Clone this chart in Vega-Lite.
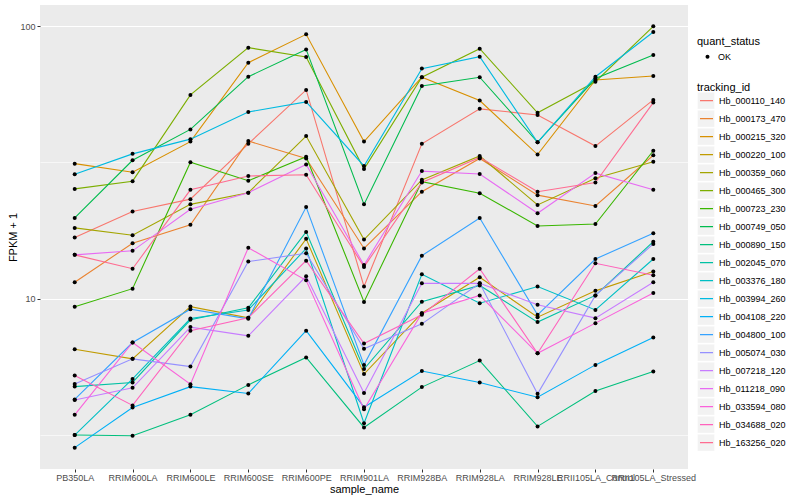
{
"$schema": "https://vega.github.io/schema/vega-lite/v6.json",
"width": 648, "height": 464,
"autosize": {"type": "none"},
"padding": {"left": 40, "top": 5, "right": 112, "bottom": 31},
"background": "white",
"config": {
  "font": "Liberation Sans",
  "view": {"fill": "#EBEBEB", "stroke": null},
  "axis": {"domain": false, "gridColor": "white", "tickColor": "#333333", "labelColor": "#4D4D4D", "labelFontSize": 9, "titleFontSize": 11, "titleFontWeight": "normal", "titleColor": "black", "tickSize": 3, "labelPadding": 2},
  "legend": {"titleFontSize": 11, "titleFontWeight": "normal", "titleColor": "black", "labelFontSize": 9, "labelColor": "black"}
},
"datasets": {"fpkm": [
{"tracking_id":"Hb_000110_140","sample_name":"PB350LA","FPKM":16.8,"quant_status":"OK"},
{"tracking_id":"Hb_000110_140","sample_name":"RRIM600LA","FPKM":20.9,"quant_status":"OK"},
{"tracking_id":"Hb_000110_140","sample_name":"RRIM600LE","FPKM":23.2,"quant_status":"OK"},
{"tracking_id":"Hb_000110_140","sample_name":"RRIM600SE","FPKM":37.0,"quant_status":"OK"},
{"tracking_id":"Hb_000110_140","sample_name":"RRIM600PE","FPKM":58.3,"quant_status":"OK"},
{"tracking_id":"Hb_000110_140","sample_name":"RRIM901LA","FPKM":11.1,"quant_status":"OK"},
{"tracking_id":"Hb_000110_140","sample_name":"RRIM928BA","FPKM":37.0,"quant_status":"OK"},
{"tracking_id":"Hb_000110_140","sample_name":"RRIM928LA","FPKM":49.7,"quant_status":"OK"},
{"tracking_id":"Hb_000110_140","sample_name":"RRIM928LE","FPKM":47.2,"quant_status":"OK"},
{"tracking_id":"Hb_000110_140","sample_name":"RRII105LA_Control","FPKM":36.3,"quant_status":"OK"},
{"tracking_id":"Hb_000110_140","sample_name":"RRII105LA_Stressed","FPKM":53.6,"quant_status":"OK"},
{"tracking_id":"Hb_000173_470","sample_name":"PB350LA","FPKM":11.5,"quant_status":"OK"},
{"tracking_id":"Hb_000173_470","sample_name":"RRIM600LA","FPKM":16.0,"quant_status":"OK"},
{"tracking_id":"Hb_000173_470","sample_name":"RRIM600LE","FPKM":18.7,"quant_status":"OK"},
{"tracking_id":"Hb_000173_470","sample_name":"RRIM600SE","FPKM":37.9,"quant_status":"OK"},
{"tracking_id":"Hb_000173_470","sample_name":"RRIM600PE","FPKM":32.7,"quant_status":"OK"},
{"tracking_id":"Hb_000173_470","sample_name":"RRIM901LA","FPKM":15.3,"quant_status":"OK"},
{"tracking_id":"Hb_000173_470","sample_name":"RRIM928BA","FPKM":24.7,"quant_status":"OK"},
{"tracking_id":"Hb_000173_470","sample_name":"RRIM928LA","FPKM":32.7,"quant_status":"OK"},
{"tracking_id":"Hb_000173_470","sample_name":"RRIM928LE","FPKM":24.0,"quant_status":"OK"},
{"tracking_id":"Hb_000173_470","sample_name":"RRII105LA_Control","FPKM":21.9,"quant_status":"OK"},
{"tracking_id":"Hb_000173_470","sample_name":"RRII105LA_Stressed","FPKM":33.6,"quant_status":"OK"},
{"tracking_id":"Hb_000215_320","sample_name":"PB350LA","FPKM":31.3,"quant_status":"OK"},
{"tracking_id":"Hb_000215_320","sample_name":"RRIM600LA","FPKM":29.1,"quant_status":"OK"},
{"tracking_id":"Hb_000215_320","sample_name":"RRIM600LE","FPKM":37.7,"quant_status":"OK"},
{"tracking_id":"Hb_000215_320","sample_name":"RRIM600SE","FPKM":73.4,"quant_status":"OK"},
{"tracking_id":"Hb_000215_320","sample_name":"RRIM600PE","FPKM":93.2,"quant_status":"OK"},
{"tracking_id":"Hb_000215_320","sample_name":"RRIM901LA","FPKM":37.7,"quant_status":"OK"},
{"tracking_id":"Hb_000215_320","sample_name":"RRIM928BA","FPKM":64.9,"quant_status":"OK"},
{"tracking_id":"Hb_000215_320","sample_name":"RRIM928LA","FPKM":53.3,"quant_status":"OK"},
{"tracking_id":"Hb_000215_320","sample_name":"RRIM928LE","FPKM":33.8,"quant_status":"OK"},
{"tracking_id":"Hb_000215_320","sample_name":"RRII105LA_Control","FPKM":63.4,"quant_status":"OK"},
{"tracking_id":"Hb_000215_320","sample_name":"RRII105LA_Stressed","FPKM":65.6,"quant_status":"OK"},
{"tracking_id":"Hb_000220_100","sample_name":"PB350LA","FPKM":6.54,"quant_status":"OK"},
{"tracking_id":"Hb_000220_100","sample_name":"RRIM600LA","FPKM":6.03,"quant_status":"OK"},
{"tracking_id":"Hb_000220_100","sample_name":"RRIM600LE","FPKM":9.37,"quant_status":"OK"},
{"tracking_id":"Hb_000220_100","sample_name":"RRIM600SE","FPKM":8.52,"quant_status":"OK"},
{"tracking_id":"Hb_000220_100","sample_name":"RRIM600PE","FPKM":16.6,"quant_status":"OK"},
{"tracking_id":"Hb_000220_100","sample_name":"RRIM901LA","FPKM":5.30,"quant_status":"OK"},
{"tracking_id":"Hb_000220_100","sample_name":"RRIM928BA","FPKM":8.86,"quant_status":"OK"},
{"tracking_id":"Hb_000220_100","sample_name":"RRIM928LA","FPKM":12.0,"quant_status":"OK"},
{"tracking_id":"Hb_000220_100","sample_name":"RRIM928LE","FPKM":8.57,"quant_status":"OK"},
{"tracking_id":"Hb_000220_100","sample_name":"RRII105LA_Control","FPKM":10.7,"quant_status":"OK"},
{"tracking_id":"Hb_000220_100","sample_name":"RRII105LA_Stressed","FPKM":12.6,"quant_status":"OK"},
{"tracking_id":"Hb_000359_060","sample_name":"PB350LA","FPKM":18.2,"quant_status":"OK"},
{"tracking_id":"Hb_000359_060","sample_name":"RRIM600LA","FPKM":17.1,"quant_status":"OK"},
{"tracking_id":"Hb_000359_060","sample_name":"RRIM600LE","FPKM":22.2,"quant_status":"OK"},
{"tracking_id":"Hb_000359_060","sample_name":"RRIM600SE","FPKM":24.5,"quant_status":"OK"},
{"tracking_id":"Hb_000359_060","sample_name":"RRIM600PE","FPKM":39.5,"quant_status":"OK"},
{"tracking_id":"Hb_000359_060","sample_name":"RRIM901LA","FPKM":16.5,"quant_status":"OK"},
{"tracking_id":"Hb_000359_060","sample_name":"RRIM928BA","FPKM":27.3,"quant_status":"OK"},
{"tracking_id":"Hb_000359_060","sample_name":"RRIM928LA","FPKM":33.4,"quant_status":"OK"},
{"tracking_id":"Hb_000359_060","sample_name":"RRIM928LE","FPKM":22.1,"quant_status":"OK"},
{"tracking_id":"Hb_000359_060","sample_name":"RRII105LA_Control","FPKM":27.7,"quant_status":"OK"},
{"tracking_id":"Hb_000359_060","sample_name":"RRII105LA_Stressed","FPKM":31.8,"quant_status":"OK"},
{"tracking_id":"Hb_000465_300","sample_name":"PB350LA","FPKM":25.3,"quant_status":"OK"},
{"tracking_id":"Hb_000465_300","sample_name":"RRIM600LA","FPKM":27.0,"quant_status":"OK"},
{"tracking_id":"Hb_000465_300","sample_name":"RRIM600LE","FPKM":55.9,"quant_status":"OK"},
{"tracking_id":"Hb_000465_300","sample_name":"RRIM600SE","FPKM":83.3,"quant_status":"OK"},
{"tracking_id":"Hb_000465_300","sample_name":"RRIM600PE","FPKM":77.0,"quant_status":"OK"},
{"tracking_id":"Hb_000465_300","sample_name":"RRIM901LA","FPKM":29.9,"quant_status":"OK"},
{"tracking_id":"Hb_000465_300","sample_name":"RRIM928BA","FPKM":64.9,"quant_status":"OK"},
{"tracking_id":"Hb_000465_300","sample_name":"RRIM928LA","FPKM":82.6,"quant_status":"OK"},
{"tracking_id":"Hb_000465_300","sample_name":"RRIM928LE","FPKM":48.1,"quant_status":"OK"},
{"tracking_id":"Hb_000465_300","sample_name":"RRII105LA_Control","FPKM":62.5,"quant_status":"OK"},
{"tracking_id":"Hb_000465_300","sample_name":"RRII105LA_Stressed","FPKM":99.7,"quant_status":"OK"},
{"tracking_id":"Hb_000723_230","sample_name":"PB350LA","FPKM":9.35,"quant_status":"OK"},
{"tracking_id":"Hb_000723_230","sample_name":"RRIM600LA","FPKM":10.9,"quant_status":"OK"},
{"tracking_id":"Hb_000723_230","sample_name":"RRIM600LE","FPKM":31.7,"quant_status":"OK"},
{"tracking_id":"Hb_000723_230","sample_name":"RRIM600SE","FPKM":27.1,"quant_status":"OK"},
{"tracking_id":"Hb_000723_230","sample_name":"RRIM600PE","FPKM":33.2,"quant_status":"OK"},
{"tracking_id":"Hb_000723_230","sample_name":"RRIM901LA","FPKM":9.75,"quant_status":"OK"},
{"tracking_id":"Hb_000723_230","sample_name":"RRIM928BA","FPKM":26.9,"quant_status":"OK"},
{"tracking_id":"Hb_000723_230","sample_name":"RRIM928LA","FPKM":24.4,"quant_status":"OK"},
{"tracking_id":"Hb_000723_230","sample_name":"RRIM928LE","FPKM":18.5,"quant_status":"OK"},
{"tracking_id":"Hb_000723_230","sample_name":"RRII105LA_Control","FPKM":18.8,"quant_status":"OK"},
{"tracking_id":"Hb_000723_230","sample_name":"RRII105LA_Stressed","FPKM":34.9,"quant_status":"OK"},
{"tracking_id":"Hb_000749_050","sample_name":"PB350LA","FPKM":19.8,"quant_status":"OK"},
{"tracking_id":"Hb_000749_050","sample_name":"RRIM600LA","FPKM":32.2,"quant_status":"OK"},
{"tracking_id":"Hb_000749_050","sample_name":"RRIM600LE","FPKM":41.8,"quant_status":"OK"},
{"tracking_id":"Hb_000749_050","sample_name":"RRIM600SE","FPKM":65.2,"quant_status":"OK"},
{"tracking_id":"Hb_000749_050","sample_name":"RRIM600PE","FPKM":82.1,"quant_status":"OK"},
{"tracking_id":"Hb_000749_050","sample_name":"RRIM901LA","FPKM":22.2,"quant_status":"OK"},
{"tracking_id":"Hb_000749_050","sample_name":"RRIM928BA","FPKM":60.3,"quant_status":"OK"},
{"tracking_id":"Hb_000749_050","sample_name":"RRIM928LA","FPKM":64.9,"quant_status":"OK"},
{"tracking_id":"Hb_000749_050","sample_name":"RRIM928LE","FPKM":37.5,"quant_status":"OK"},
{"tracking_id":"Hb_000749_050","sample_name":"RRII105LA_Control","FPKM":64.2,"quant_status":"OK"},
{"tracking_id":"Hb_000749_050","sample_name":"RRII105LA_Stressed","FPKM":78.3,"quant_status":"OK"},
{"tracking_id":"Hb_000890_150","sample_name":"PB350LA","FPKM":3.17,"quant_status":"OK"},
{"tracking_id":"Hb_000890_150","sample_name":"RRIM600LA","FPKM":3.15,"quant_status":"OK"},
{"tracking_id":"Hb_000890_150","sample_name":"RRIM600LE","FPKM":3.76,"quant_status":"OK"},
{"tracking_id":"Hb_000890_150","sample_name":"RRIM600SE","FPKM":4.84,"quant_status":"OK"},
{"tracking_id":"Hb_000890_150","sample_name":"RRIM600PE","FPKM":6.10,"quant_status":"OK"},
{"tracking_id":"Hb_000890_150","sample_name":"RRIM901LA","FPKM":3.38,"quant_status":"OK"},
{"tracking_id":"Hb_000890_150","sample_name":"RRIM928BA","FPKM":4.75,"quant_status":"OK"},
{"tracking_id":"Hb_000890_150","sample_name":"RRIM928LA","FPKM":5.94,"quant_status":"OK"},
{"tracking_id":"Hb_000890_150","sample_name":"RRIM928LE","FPKM":3.41,"quant_status":"OK"},
{"tracking_id":"Hb_000890_150","sample_name":"RRII105LA_Control","FPKM":4.60,"quant_status":"OK"},
{"tracking_id":"Hb_000890_150","sample_name":"RRII105LA_Stressed","FPKM":5.42,"quant_status":"OK"},
{"tracking_id":"Hb_002045_070","sample_name":"PB350LA","FPKM":4.77,"quant_status":"OK"},
{"tracking_id":"Hb_002045_070","sample_name":"RRIM600LA","FPKM":4.94,"quant_status":"OK"},
{"tracking_id":"Hb_002045_070","sample_name":"RRIM600LE","FPKM":8.38,"quant_status":"OK"},
{"tracking_id":"Hb_002045_070","sample_name":"RRIM600SE","FPKM":9.27,"quant_status":"OK"},
{"tracking_id":"Hb_002045_070","sample_name":"RRIM600PE","FPKM":17.6,"quant_status":"OK"},
{"tracking_id":"Hb_002045_070","sample_name":"RRIM901LA","FPKM":5.53,"quant_status":"OK"},
{"tracking_id":"Hb_002045_070","sample_name":"RRIM928BA","FPKM":9.77,"quant_status":"OK"},
{"tracking_id":"Hb_002045_070","sample_name":"RRIM928LA","FPKM":11.2,"quant_status":"OK"},
{"tracking_id":"Hb_002045_070","sample_name":"RRIM928LE","FPKM":8.22,"quant_status":"OK"},
{"tracking_id":"Hb_002045_070","sample_name":"RRII105LA_Control","FPKM":10.3,"quant_status":"OK"},
{"tracking_id":"Hb_002045_070","sample_name":"RRII105LA_Stressed","FPKM":16.2,"quant_status":"OK"},
{"tracking_id":"Hb_003376_180","sample_name":"PB350LA","FPKM":3.17,"quant_status":"OK"},
{"tracking_id":"Hb_003376_180","sample_name":"RRIM600LA","FPKM":5.09,"quant_status":"OK"},
{"tracking_id":"Hb_003376_180","sample_name":"RRIM600LE","FPKM":8.47,"quant_status":"OK"},
{"tracking_id":"Hb_003376_180","sample_name":"RRIM600SE","FPKM":9.11,"quant_status":"OK"},
{"tracking_id":"Hb_003376_180","sample_name":"RRIM600PE","FPKM":15.3,"quant_status":"OK"},
{"tracking_id":"Hb_003376_180","sample_name":"RRIM901LA","FPKM":3.50,"quant_status":"OK"},
{"tracking_id":"Hb_003376_180","sample_name":"RRIM928BA","FPKM":12.3,"quant_status":"OK"},
{"tracking_id":"Hb_003376_180","sample_name":"RRIM928LA","FPKM":9.64,"quant_status":"OK"},
{"tracking_id":"Hb_003376_180","sample_name":"RRIM928LE","FPKM":11.1,"quant_status":"OK"},
{"tracking_id":"Hb_003376_180","sample_name":"RRII105LA_Control","FPKM":9.11,"quant_status":"OK"},
{"tracking_id":"Hb_003376_180","sample_name":"RRII105LA_Stressed","FPKM":14.0,"quant_status":"OK"},
{"tracking_id":"Hb_003994_260","sample_name":"PB350LA","FPKM":28.6,"quant_status":"OK"},
{"tracking_id":"Hb_003994_260","sample_name":"RRIM600LA","FPKM":34.0,"quant_status":"OK"},
{"tracking_id":"Hb_003994_260","sample_name":"RRIM600LE","FPKM":38.5,"quant_status":"OK"},
{"tracking_id":"Hb_003994_260","sample_name":"RRIM600SE","FPKM":48.4,"quant_status":"OK"},
{"tracking_id":"Hb_003994_260","sample_name":"RRIM600PE","FPKM":52.7,"quant_status":"OK"},
{"tracking_id":"Hb_003994_260","sample_name":"RRIM901LA","FPKM":30.7,"quant_status":"OK"},
{"tracking_id":"Hb_003994_260","sample_name":"RRIM928BA","FPKM":69.8,"quant_status":"OK"},
{"tracking_id":"Hb_003994_260","sample_name":"RRIM928LA","FPKM":77.2,"quant_status":"OK"},
{"tracking_id":"Hb_003994_260","sample_name":"RRIM928LE","FPKM":37.5,"quant_status":"OK"},
{"tracking_id":"Hb_003994_260","sample_name":"RRII105LA_Control","FPKM":65.2,"quant_status":"OK"},
{"tracking_id":"Hb_003994_260","sample_name":"RRII105LA_Stressed","FPKM":95.1,"quant_status":"OK"},
{"tracking_id":"Hb_004108_220","sample_name":"PB350LA","FPKM":2.85,"quant_status":"OK"},
{"tracking_id":"Hb_004108_220","sample_name":"RRIM600LA","FPKM":4.00,"quant_status":"OK"},
{"tracking_id":"Hb_004108_220","sample_name":"RRIM600LE","FPKM":4.77,"quant_status":"OK"},
{"tracking_id":"Hb_004108_220","sample_name":"RRIM600SE","FPKM":4.50,"quant_status":"OK"},
{"tracking_id":"Hb_004108_220","sample_name":"RRIM600PE","FPKM":7.65,"quant_status":"OK"},
{"tracking_id":"Hb_004108_220","sample_name":"RRIM901LA","FPKM":4.01,"quant_status":"OK"},
{"tracking_id":"Hb_004108_220","sample_name":"RRIM928BA","FPKM":5.44,"quant_status":"OK"},
{"tracking_id":"Hb_004108_220","sample_name":"RRIM928LA","FPKM":4.94,"quant_status":"OK"},
{"tracking_id":"Hb_004108_220","sample_name":"RRIM928LE","FPKM":4.36,"quant_status":"OK"},
{"tracking_id":"Hb_004108_220","sample_name":"RRII105LA_Control","FPKM":5.73,"quant_status":"OK"},
{"tracking_id":"Hb_004108_220","sample_name":"RRII105LA_Stressed","FPKM":7.22,"quant_status":"OK"},
{"tracking_id":"Hb_004800_100","sample_name":"PB350LA","FPKM":4.28,"quant_status":"OK"},
{"tracking_id":"Hb_004800_100","sample_name":"RRIM600LA","FPKM":6.92,"quant_status":"OK"},
{"tracking_id":"Hb_004800_100","sample_name":"RRIM600LE","FPKM":9.17,"quant_status":"OK"},
{"tracking_id":"Hb_004800_100","sample_name":"RRIM600SE","FPKM":8.45,"quant_status":"OK"},
{"tracking_id":"Hb_004800_100","sample_name":"RRIM600PE","FPKM":21.7,"quant_status":"OK"},
{"tracking_id":"Hb_004800_100","sample_name":"RRIM901LA","FPKM":5.73,"quant_status":"OK"},
{"tracking_id":"Hb_004800_100","sample_name":"RRIM928BA","FPKM":14.4,"quant_status":"OK"},
{"tracking_id":"Hb_004800_100","sample_name":"RRIM928LA","FPKM":19.8,"quant_status":"OK"},
{"tracking_id":"Hb_004800_100","sample_name":"RRIM928LE","FPKM":8.74,"quant_status":"OK"},
{"tracking_id":"Hb_004800_100","sample_name":"RRII105LA_Control","FPKM":14.0,"quant_status":"OK"},
{"tracking_id":"Hb_004800_100","sample_name":"RRII105LA_Stressed","FPKM":17.4,"quant_status":"OK"},
{"tracking_id":"Hb_005074_030","sample_name":"PB350LA","FPKM":4.88,"quant_status":"OK"},
{"tracking_id":"Hb_005074_030","sample_name":"RRIM600LA","FPKM":6.03,"quant_status":"OK"},
{"tracking_id":"Hb_005074_030","sample_name":"RRIM600LE","FPKM":5.65,"quant_status":"OK"},
{"tracking_id":"Hb_005074_030","sample_name":"RRIM600SE","FPKM":13.7,"quant_status":"OK"},
{"tracking_id":"Hb_005074_030","sample_name":"RRIM600PE","FPKM":14.7,"quant_status":"OK"},
{"tracking_id":"Hb_005074_030","sample_name":"RRIM901LA","FPKM":6.56,"quant_status":"OK"},
{"tracking_id":"Hb_005074_030","sample_name":"RRIM928BA","FPKM":8.10,"quant_status":"OK"},
{"tracking_id":"Hb_005074_030","sample_name":"RRIM928LA","FPKM":11.4,"quant_status":"OK"},
{"tracking_id":"Hb_005074_030","sample_name":"RRIM928LE","FPKM":4.49,"quant_status":"OK"},
{"tracking_id":"Hb_005074_030","sample_name":"RRII105LA_Control","FPKM":10.3,"quant_status":"OK"},
{"tracking_id":"Hb_005074_030","sample_name":"RRII105LA_Stressed","FPKM":15.9,"quant_status":"OK"},
{"tracking_id":"Hb_007218_120","sample_name":"PB350LA","FPKM":4.26,"quant_status":"OK"},
{"tracking_id":"Hb_007218_120","sample_name":"RRIM600LA","FPKM":4.72,"quant_status":"OK"},
{"tracking_id":"Hb_007218_120","sample_name":"RRIM600LE","FPKM":7.88,"quant_status":"OK"},
{"tracking_id":"Hb_007218_120","sample_name":"RRIM600SE","FPKM":7.32,"quant_status":"OK"},
{"tracking_id":"Hb_007218_120","sample_name":"RRIM600PE","FPKM":12.1,"quant_status":"OK"},
{"tracking_id":"Hb_007218_120","sample_name":"RRIM901LA","FPKM":4.52,"quant_status":"OK"},
{"tracking_id":"Hb_007218_120","sample_name":"RRIM928BA","FPKM":11.4,"quant_status":"OK"},
{"tracking_id":"Hb_007218_120","sample_name":"RRIM928LA","FPKM":11.4,"quant_status":"OK"},
{"tracking_id":"Hb_007218_120","sample_name":"RRIM928LE","FPKM":9.51,"quant_status":"OK"},
{"tracking_id":"Hb_007218_120","sample_name":"RRII105LA_Control","FPKM":8.50,"quant_status":"OK"},
{"tracking_id":"Hb_007218_120","sample_name":"RRII105LA_Stressed","FPKM":11.5,"quant_status":"OK"},
{"tracking_id":"Hb_011218_090","sample_name":"PB350LA","FPKM":14.5,"quant_status":"OK"},
{"tracking_id":"Hb_011218_090","sample_name":"RRIM600LA","FPKM":15.0,"quant_status":"OK"},
{"tracking_id":"Hb_011218_090","sample_name":"RRIM600LE","FPKM":21.3,"quant_status":"OK"},
{"tracking_id":"Hb_011218_090","sample_name":"RRIM600SE","FPKM":24.5,"quant_status":"OK"},
{"tracking_id":"Hb_011218_090","sample_name":"RRIM600PE","FPKM":31.1,"quant_status":"OK"},
{"tracking_id":"Hb_011218_090","sample_name":"RRIM901LA","FPKM":13.3,"quant_status":"OK"},
{"tracking_id":"Hb_011218_090","sample_name":"RRIM928BA","FPKM":29.4,"quant_status":"OK"},
{"tracking_id":"Hb_011218_090","sample_name":"RRIM928LA","FPKM":28.7,"quant_status":"OK"},
{"tracking_id":"Hb_011218_090","sample_name":"RRIM928LE","FPKM":20.6,"quant_status":"OK"},
{"tracking_id":"Hb_011218_090","sample_name":"RRII105LA_Control","FPKM":28.9,"quant_status":"OK"},
{"tracking_id":"Hb_011218_090","sample_name":"RRII105LA_Stressed","FPKM":25.1,"quant_status":"OK"},
{"tracking_id":"Hb_033594_080","sample_name":"PB350LA","FPKM":3.76,"quant_status":"OK"},
{"tracking_id":"Hb_033594_080","sample_name":"RRIM600LA","FPKM":6.92,"quant_status":"OK"},
{"tracking_id":"Hb_033594_080","sample_name":"RRIM600LE","FPKM":4.87,"quant_status":"OK"},
{"tracking_id":"Hb_033594_080","sample_name":"RRIM600SE","FPKM":15.4,"quant_status":"OK"},
{"tracking_id":"Hb_033594_080","sample_name":"RRIM600PE","FPKM":11.7,"quant_status":"OK"},
{"tracking_id":"Hb_033594_080","sample_name":"RRIM901LA","FPKM":3.94,"quant_status":"OK"},
{"tracking_id":"Hb_033594_080","sample_name":"RRIM928BA","FPKM":8.86,"quant_status":"OK"},
{"tracking_id":"Hb_033594_080","sample_name":"RRIM928LA","FPKM":10.3,"quant_status":"OK"},
{"tracking_id":"Hb_033594_080","sample_name":"RRIM928LE","FPKM":6.32,"quant_status":"OK"},
{"tracking_id":"Hb_033594_080","sample_name":"RRII105LA_Control","FPKM":8.15,"quant_status":"OK"},
{"tracking_id":"Hb_033594_080","sample_name":"RRII105LA_Stressed","FPKM":10.5,"quant_status":"OK"},
{"tracking_id":"Hb_034688_020","sample_name":"PB350LA","FPKM":5.24,"quant_status":"OK"},
{"tracking_id":"Hb_034688_020","sample_name":"RRIM600LA","FPKM":4.07,"quant_status":"OK"},
{"tracking_id":"Hb_034688_020","sample_name":"RRIM600LE","FPKM":7.65,"quant_status":"OK"},
{"tracking_id":"Hb_034688_020","sample_name":"RRIM600SE","FPKM":8.52,"quant_status":"OK"},
{"tracking_id":"Hb_034688_020","sample_name":"RRIM600PE","FPKM":13.8,"quant_status":"OK"},
{"tracking_id":"Hb_034688_020","sample_name":"RRIM901LA","FPKM":6.86,"quant_status":"OK"},
{"tracking_id":"Hb_034688_020","sample_name":"RRIM928BA","FPKM":8.74,"quant_status":"OK"},
{"tracking_id":"Hb_034688_020","sample_name":"RRIM928LA","FPKM":12.9,"quant_status":"OK"},
{"tracking_id":"Hb_034688_020","sample_name":"RRIM928LE","FPKM":6.32,"quant_status":"OK"},
{"tracking_id":"Hb_034688_020","sample_name":"RRII105LA_Control","FPKM":13.5,"quant_status":"OK"},
{"tracking_id":"Hb_034688_020","sample_name":"RRII105LA_Stressed","FPKM":12.2,"quant_status":"OK"},
{"tracking_id":"Hb_163256_020","sample_name":"PB350LA","FPKM":14.5,"quant_status":"OK"},
{"tracking_id":"Hb_163256_020","sample_name":"RRIM600LA","FPKM":12.9,"quant_status":"OK"},
{"tracking_id":"Hb_163256_020","sample_name":"RRIM600LE","FPKM":25.1,"quant_status":"OK"},
{"tracking_id":"Hb_163256_020","sample_name":"RRIM600SE","FPKM":28.2,"quant_status":"OK"},
{"tracking_id":"Hb_163256_020","sample_name":"RRIM600PE","FPKM":28.5,"quant_status":"OK"},
{"tracking_id":"Hb_163256_020","sample_name":"RRIM901LA","FPKM":13.1,"quant_status":"OK"},
{"tracking_id":"Hb_163256_020","sample_name":"RRIM928BA","FPKM":26.7,"quant_status":"OK"},
{"tracking_id":"Hb_163256_020","sample_name":"RRIM928LA","FPKM":33.0,"quant_status":"OK"},
{"tracking_id":"Hb_163256_020","sample_name":"RRIM928LE","FPKM":24.7,"quant_status":"OK"},
{"tracking_id":"Hb_163256_020","sample_name":"RRII105LA_Control","FPKM":26.7,"quant_status":"OK"},
{"tracking_id":"Hb_163256_020","sample_name":"RRII105LA_Stressed","FPKM":52.4,"quant_status":"OK"}
]},
"data": {"name": "fpkm"},
"encoding": {
  "x": {"field": "sample_name", "type": "nominal",
        "sort": ["PB350LA","RRIM600LA","RRIM600LE","RRIM600SE","RRIM600PE","RRIM901LA","RRIM928BA","RRIM928LA","RRIM928LE","RRII105LA_Control","RRII105LA_Stressed"],
        "scale": {"type": "point", "padding": 0.6},
        "axis": {"labelAngle": 0, "labelOverlap": false, "labelLimit": 0, "title": "sample_name", "titlePadding": 1, "gridWidth": 1.1, "labelPadding": 1}},
  "y": {"field": "FPKM", "type": "quantitative",
        "scale": {"type": "log", "domain": [2.38, 119.4], "nice": false},
        "axis": {"title": "FPKM + 1", "titlePadding": 1, "values": [3.1623, 10, 31.623, 100],
                 "labelExpr": "datum.value == 10 ? '10' : (datum.value == 100 ? '100' : '')",
                 "tickOpacity": {"condition": {"test": "datum.value == 10 || datum.value == 100", "value": 1}, "value": 0},
                 "gridWidth": {"condition": {"test": "datum.value == 10 || datum.value == 100", "value": 1.1}, "value": 0.6}}}
},
"layer": [
  {"mark": {"type": "point", "filled": true, "opacity": 0, "size": 1},
   "encoding": {
     "fill": {"field": "tracking_id", "type": "nominal",
       "scale": {"range": ["#F2F2F2"]},
       "legend": {"title": "tracking_id", "orient": "none", "legendX": 657, "legendY": 77, "symbolType": "square", "symbolSize": 290, "symbolOpacity": 1, "symbolFillColor": "#F2F2F2", "symbolStrokeColor": "white", "symbolStrokeWidth": 0.5, "symbolOffset": 0, "clipHeight": 17.28, "rowPadding": 0, "titlePadding": -1, "labelOffset": 5, "labelOpacity": 0, "titleOpacity": 0}}
   }},
  {"mark": {"type": "line", "strokeWidth": 1.1},
   "encoding": {
     "order": {"value": null},
     "stroke": {"field": "tracking_id", "type": "nominal",
       "scale": {"domain": ["Hb_000110_140","Hb_000173_470","Hb_000215_320","Hb_000220_100","Hb_000359_060","Hb_000465_300","Hb_000723_230","Hb_000749_050","Hb_000890_150","Hb_002045_070","Hb_003376_180","Hb_003994_260","Hb_004108_220","Hb_004800_100","Hb_005074_030","Hb_007218_120","Hb_011218_090","Hb_033594_080","Hb_034688_020","Hb_163256_020"],
                 "range": ["#F8766D","#EA8331","#D89000","#C09B00","#A3A500","#7CAE00","#39B600","#00BB4E","#00BF7D","#00C1A3","#00BFC4","#00BAE0","#00B0F6","#35A2FF","#9590FF","#C77CFF","#E76BF3","#FA62DB","#FF62BC","#FF6C91"]},
       "legend": {"title": "tracking_id", "orient": "none", "legendX": 657, "legendY": 77, "symbolType": "stroke", "symbolSize": 169, "symbolStrokeWidth": 1.2, "symbolOffset": 2, "clipHeight": 17.28, "rowPadding": 0, "titlePadding": -1, "labelOffset": 5}}
   }},
  {"mark": {"type": "point", "filled": true, "color": "black", "size": 16, "opacity": 1},
   "encoding": {
     "shape": {"field": "quant_status", "type": "nominal", "scale": {"range": ["circle"]},
       "legend": {"title": "quant_status", "orient": "none", "legendX": 657, "legendY": 31, "symbolFillColor": "black", "symbolStrokeColor": "black", "symbolSize": 16, "symbolOffset": 6, "clipHeight": 17.28, "titlePadding": 1, "labelOffset": 6}}
   }}
],
"resolve": {"scale": {"fill": "independent", "stroke": "independent"}}
}
